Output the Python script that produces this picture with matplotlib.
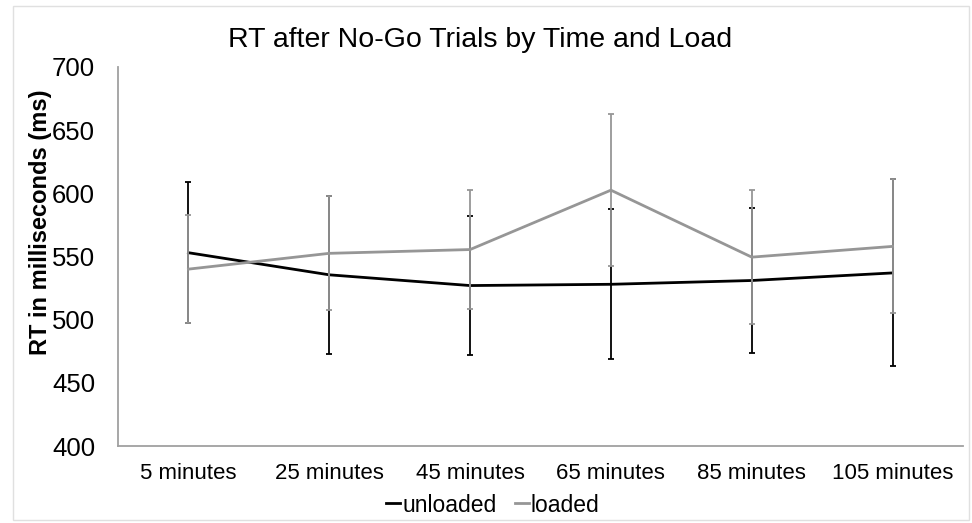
import numpy as np
import matplotlib
matplotlib.use('Agg')
import matplotlib.pyplot as plt
from matplotlib.patches import Rectangle

plt.rcParams['font.family'] = ['Liberation Sans', 'DejaVu Sans']

times = ['5 minutes', '25 minutes', '45 minutes', '65 minutes', '85 minutes', '105 minutes']
unloaded = [553, 535.5, 527, 528, 531, 537]
unloaded_err = [56, 62.5, 55, 59.5, 57.5, 74]
loaded = [540, 552.5, 555.5, 602.5, 549.5, 558]
loaded_err = [43, 45, 47, 60, 53, 53]

fig = plt.figure(figsize=(9.72, 5.23), dpi=100)
ax = fig.add_axes([118 / 972, 1 - 446 / 523, (963 - 118) / 972, (446 - 67) / 523])

x = np.arange(len(times))
black = '#000000'
gray = '#969696'

ax.errorbar(x, unloaded, yerr=unloaded_err, color=black, lw=2, elinewidth=1.3,
            capsize=2.5, capthick=1.3, label='unloaded', zorder=3)
ax.errorbar(x, loaded, yerr=loaded_err, color=gray, lw=2, elinewidth=1.3,
            capsize=2.5, capthick=1.3, label='loaded', zorder=4)

ax.set_xlim(-0.5, len(times) - 0.5)
ax.set_ylim(400, 700)
ax.set_yticks(np.arange(400, 701, 50))
ax.set_xticks(x)
ax.set_xticklabels(times, fontsize=16)
ax.tick_params(axis='y', labelsize=18.5, length=0, pad=16.5)
ax.tick_params(axis='x', length=0, pad=12)

for s in ['top', 'right']:
    ax.spines[s].set_visible(False)
for s in ['left', 'bottom']:
    ax.spines[s].set_color('#a0a0a0')
    ax.spines[s].set_linewidth(1.3)

# y label sits above the axis centre in the original
fig.text(40 / 972, 1 - 222 / 523, 'RT in milliseconds (ms)', fontsize=17,
         fontweight='bold', rotation=90, ha='center', va='center')
fig.text(480 / 972, 1 - 40 / 523, 'RT after No-Go Trials by Time and Load',
         fontsize=20.5, ha='center', va='center')

handles, labels = ax.get_legend_handles_labels()
handles = [h[0] for h in handles]
fig.legend(handles, labels, loc='center', bbox_to_anchor=(493 / 972, 1 - 505 / 523),
           ncol=2, frameon=False, fontsize=16.5, handlelength=0.6, handletextpad=0.1,
           columnspacing=0.8)

fig.patches.append(Rectangle((13 / 972, 3 / 523), 956 / 972, 514 / 523,
                             transform=fig.transFigure, fill=False,
                             edgecolor='#e0e0e0', lw=1))

fig.savefig('out.png', dpi=100)
